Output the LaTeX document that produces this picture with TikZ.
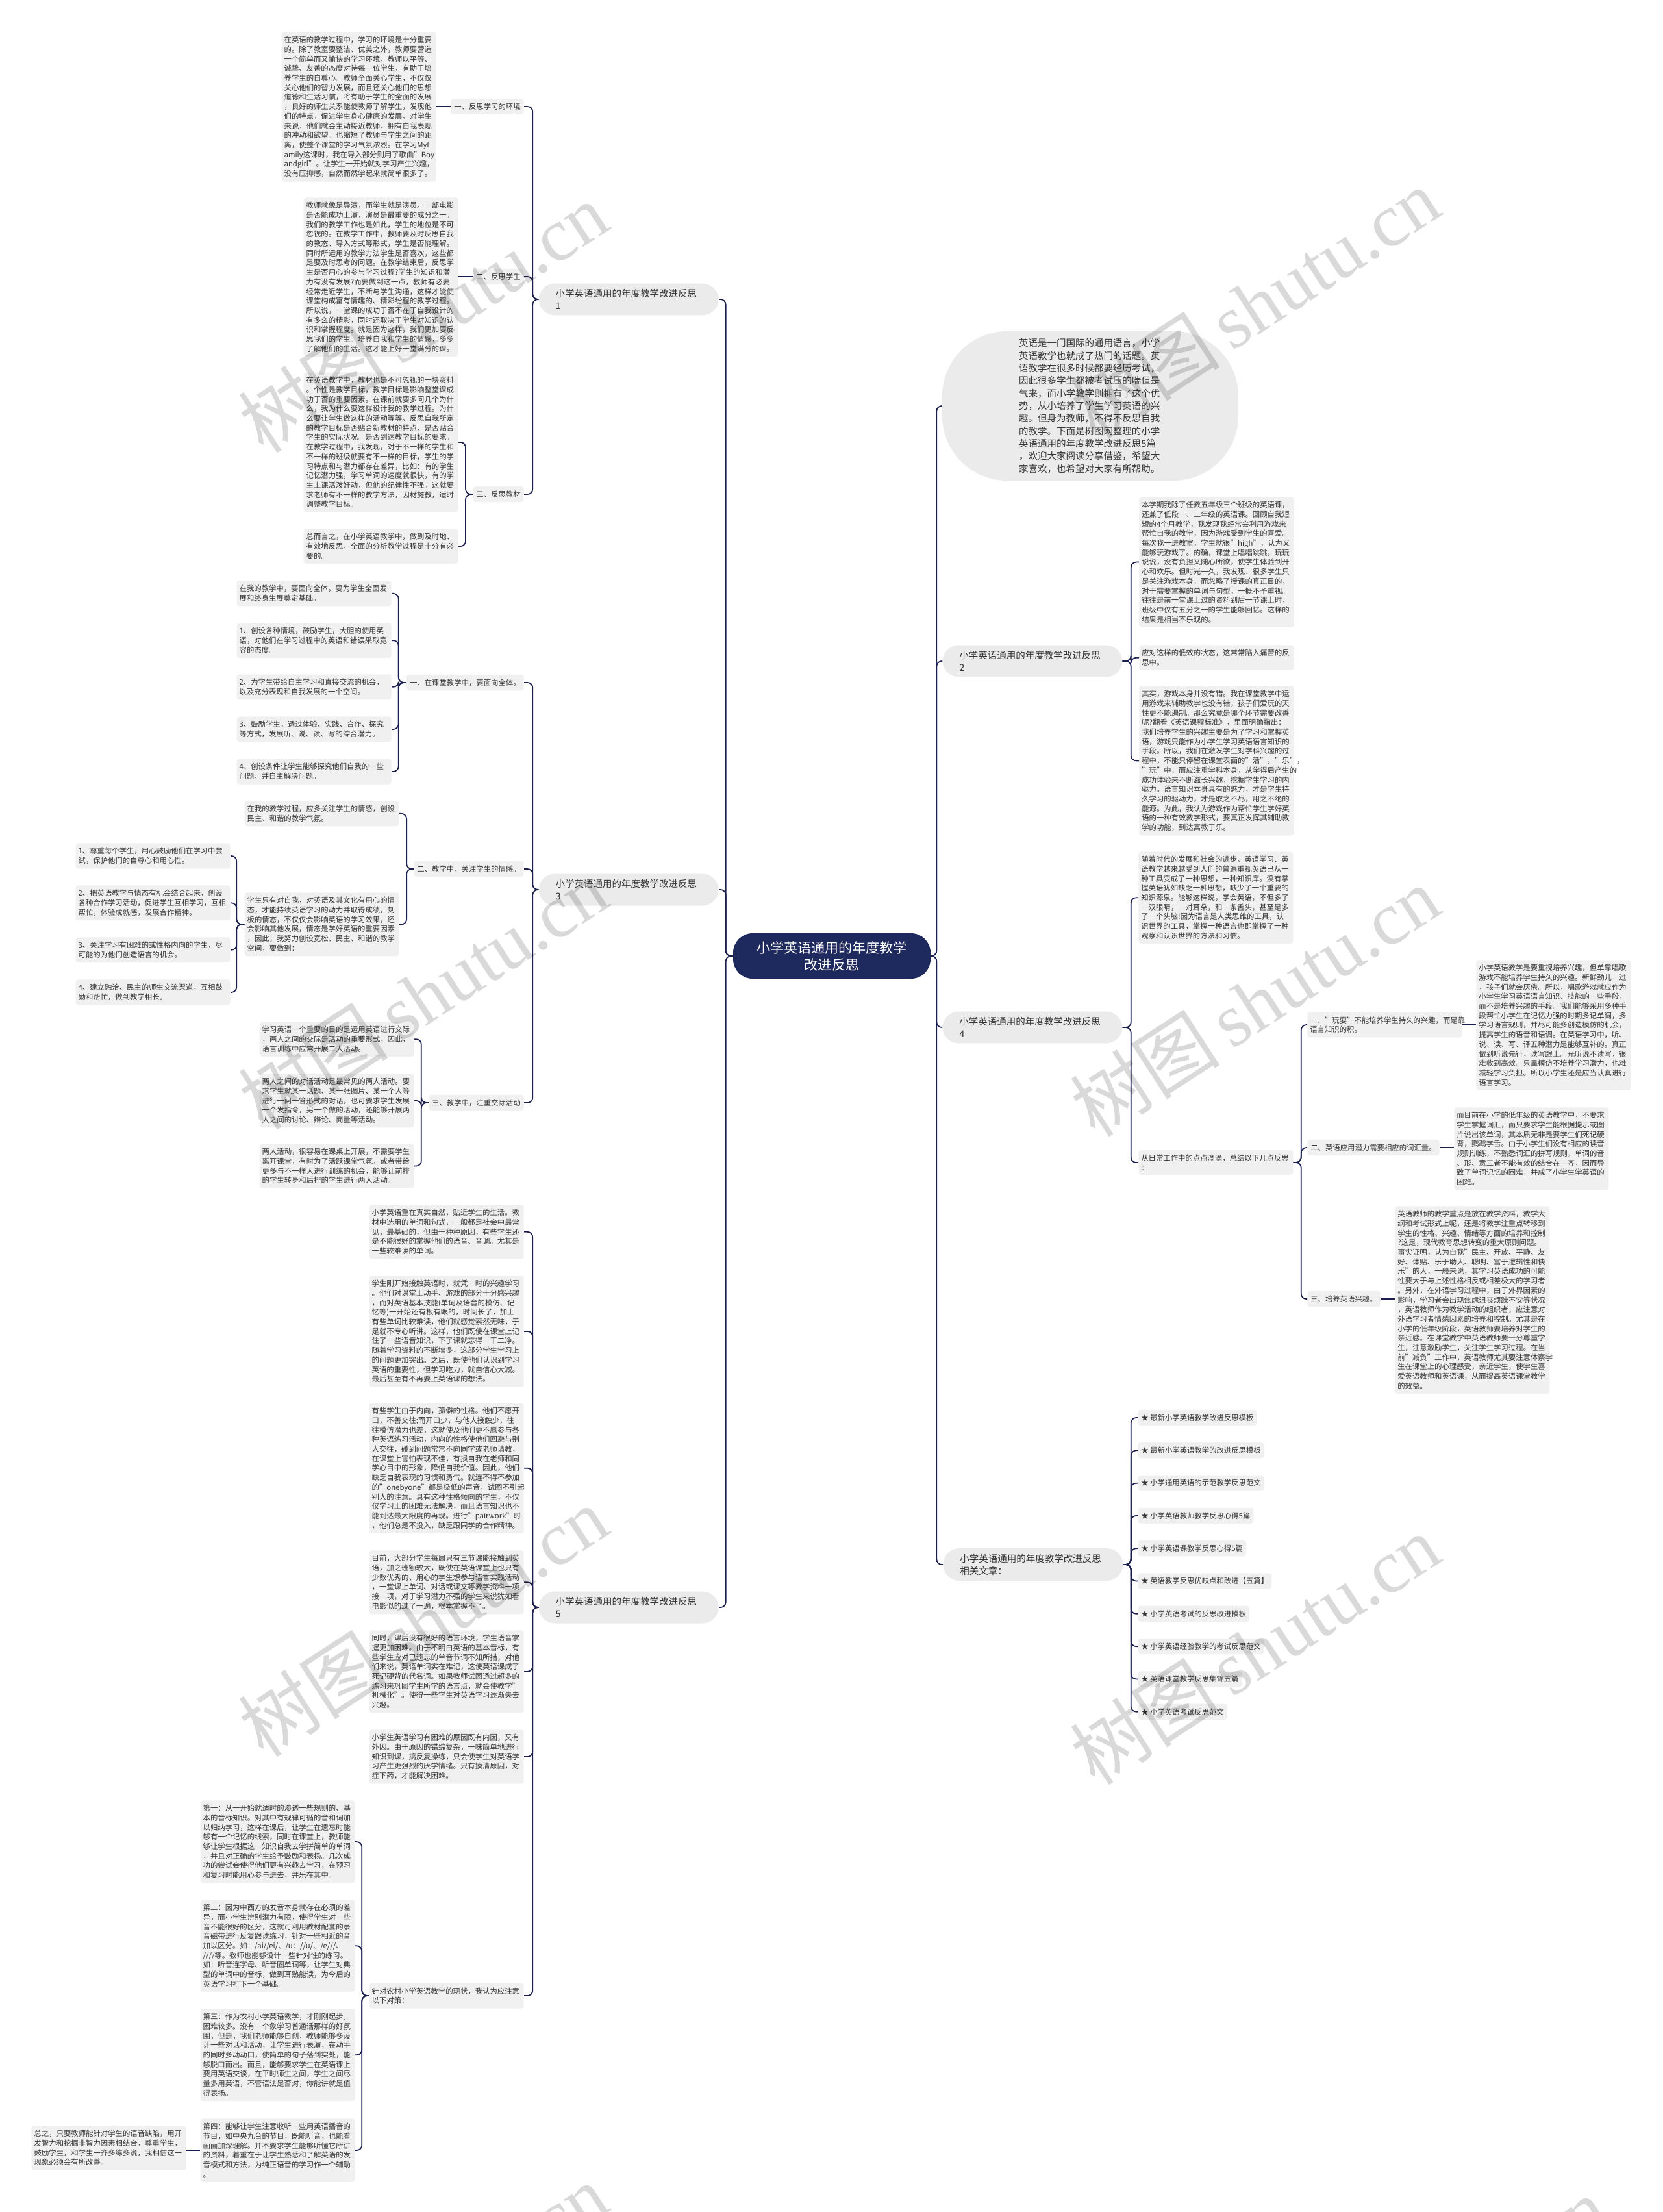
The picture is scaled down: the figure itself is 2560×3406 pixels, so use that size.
\documentclass[tikz,border=0pt]{standalone}
\usepackage{fontspec}
\setmainfont{Noto Sans CJK SC}
\newfontfamily\wmlat{Liberation Serif}
\definecolor{navy}{HTML}{1B1F4D}
\definecolor{kasten}{HTML}{F0F0F0}
\definecolor{pille}{HTML}{EBEBEB}
\definecolor{schrift}{HTML}{333333}
\definecolor{mittefarbe}{HTML}{1E2A5E}
\newcommand\klein{\fontsize{6.47pt}{8.36pt}\selectfont}
\newcommand\mittel{\fontsize{8.25pt}{10.8pt}\selectfont}
\newcommand\gross{\fontsize{12pt}{14.8pt}\selectfont}

\begin{document}
\begin{tikzpicture}[x=0.2mm, y=-0.2mm,
    txt/.style={fill=kasten, text=schrift, rounded corners=0.8mm, align=left,
      text width=46mm, inner xsep=0.8mm, inner ysep=1.36mm, font=\klein},
    lbl/.style={fill=kasten, text=schrift, rounded corners=0.8mm,
      inner xsep=1mm, inner ysep=1.36mm, font=\klein},
    ast/.style={fill=pille, text=schrift, rounded corners=5mm, align=left,
      text width=45mm, inner xsep=5.2mm, inner ysep=1.75mm, font=\mittel},
    verb/.style={draw=navy, line width=0.35mm, rounded corners=1.6mm},
    wz/.style={text=black, text opacity=0.15, rotate=33, inner sep=0pt}]
    % Rahmen
    \path[use as bounding box, fill=white] (0,0) rectangle (2560,3406);
    % Mitte
    \node[fill=mittefarbe, text=white, rounded corners=6mm, minimum width=60.8mm,
      minimum height=14mm, align=center, font=\gross] (mitte) at (1281,1472)
      {小学英语通用的年度教学\\改进反思};
    % Einleitung
    \node[fill=pille, text=schrift, rounded corners=20mm, minimum width=91.2mm,
      minimum height=46mm, align=left, text width=44mm,
      font=\fontsize{8.25pt}{11pt}\selectfont] (intro) at (1679,625)
      {英语是一门国际的通用语言，小学\\英语教学也就成了热门的话题。英\\语教学在很多时候都要经历考试，\\因此很多学生都被考试压的喘但是\\气来，而小学教学则拥有了这个优\\势，从小培养了学生学习英语的兴\\趣。但身为教师，不得不反思自我\\的教学。下面是树图网整理的小学\\英语通用的年度教学改进反思5篇\\，欢迎大家阅读分享借鉴，希望大\\家喜欢，也希望对大家有所帮助。};

    % Zweig 1
    \node[ast, anchor=east] (z1) at (1107,461) {小学英语通用的年度教学改进反思\\1};
    \node[lbl, anchor=east] (l1a) at (807,164) {一、反思学习的环境};
    \node[lbl, anchor=east] (l1b) at (807,426) {二、反思学生};
    \node[lbl, anchor=east] (l1c) at (807,761) {三、反思教材};
    \node[txt, anchor=north east] (t1a) at (672,49)
      {在英语的教学过程中，学习的环境是十分重要\\的。除了教室要整洁、优美之外，教师要营造\\一个简单而又愉快的学习环境，教师以平等、\\诚挚、友善的态度对待每一位学生，有助于培\\养学生的自尊心。教师全面关心学生，不仅仅\\关心他们的智力发展，而且还关心他们的思想\\道德和生活习惯，将有助于学生的全面的发展\\，良好的师生关系能使教师了解学生，发现他\\们的特点，促进学生身心健康的发展。对学生\\来说，他们就会主动接近教师，拥有自我表现\\的冲动和欲望。也缩短了教师与学生之间的距\\离，使整个课堂的学习气氛浓烈。在学习Myf\\amily这课时，我在导入部分则用了歌曲"Boy\\andgirl"。让学生一开始就对学习产生兴趣，\\没有压抑感，自然而然学起来就简单很多了。};
    \node[txt, anchor=north east] (t1b) at (706,304)
      {教师就像是导演，而学生就是演员。一部电影\\是否能成功上演，演员是最重要的成分之一。\\我们的教学工作也是如此，学生的地位是不可\\忽视的。在教学工作中，教师要及时反思自我\\的教态、导入方式等形式，学生是否能理解。\\同时所运用的教学方法学生是否喜欢，这些都\\是要及时思考的问题。在教学结束后，反思学\\生是否用心的参与学习过程?学生的知识和潜\\力有没有发展?而要做到这一点，教师有必要\\经常走近学生，不断与学生沟通，这样才能使\\课堂构成富有情趣的、精彩纷程的教学过程。\\所以说，一堂课的成功于否不在于自我设计的\\有多么的精彩，同时还取决于学生对知识的认\\识和掌握程度。就是因为这样，我们更加要反\\思我们的学生。培养自我和学生的情感，多多\\了解他们的生活。这才能上好一堂满分的课。};
    \node[txt, anchor=north east] (t1c) at (706,573)
      {在英语教学中，教材也是不可忽视的一块资料\\。个性是教学目标，教学目标是影响整堂课成\\功于否的重要因素。在课前就要多问几个为什\\么，我为什么要这样设计我的教学过程。为什\\么要让学生做这样的活动等等。反思自我所定\\的教学目标是否贴合新教材的特点，是否贴合\\学生的实际状况。是否到达教学目标的要求。\\在教学过程中，我发现，对于不一样的学生和\\不一样的班级就要有不一样的目标，学生的学\\习特点和与潜力都存在差异，比如：有的学生\\记忆潜力强，学习单词的速度就很快，有的学\\生上课活泼好动，但他的纪律性不强。这就要\\求老师有不一样的教学方法，因材施教，适时\\调整教学目标。};
    \node[txt, anchor=north east] (t1d) at (706,814)
      {总而言之，在小学英语教学中，做到及时地、\\有效地反思，全面的分析教学过程是十分有必\\要的。};

    % Zweig 3
    \node[ast, anchor=east] (z3) at (1107,1370) {小学英语通用的年度教学改进反思\\3};
    \node[lbl, anchor=east] (l3a) at (807,1051) {一、在课堂教学中，要面向全体。};
    \node[lbl, anchor=east] (l3b) at (807,1338) {二、教学中，关注学生的情感。};
    \node[lbl, anchor=east] (l3c) at (807,1698) {三、教学中，注重交际活动};
    \node[txt, anchor=north east] (t3a1) at (603,894)
      {在我的教学中，要面向全体，要为学生全面发\\展和终身生展奠定基础。};
    \node[txt, anchor=north east] (t3a2) at (603,959)
      {1、创设各种情境，鼓励学生，大胆的使用英\\语，对他们在学习过程中的英语和错误采取宽\\容的态度。};
    \node[txt, anchor=north east] (t3a3) at (603,1038)
      {2、为学生带给自主学习和直接交流的机会，\\以及充分表现和自我发展的一个空间。};
    \node[txt, anchor=north east] (t3a4) at (603,1103)
      {3、鼓励学生，透过体验、实践、合作、探究\\等方式，发展听、说、读、写的综合潜力。};
    \node[txt, anchor=north east] (t3a5) at (603,1168)
      {4、创设条件让学生能够探究他们自我的一些\\问题，并自主解决问题。};
    \node[txt, anchor=north east] (t3b1) at (615,1233)
      {在我的教学过程，应多关注学生的情感，创设\\民主、和谐的教学气氛。};
    \node[txt, anchor=north east] (t3b2) at (615,1374)
      {学生只有对自我，对英语及其文化有用心的情\\态，才能持续英语学习的动力并取得成绩，刻\\板的情态，不仅仅会影响英语的学习效果，还\\会影响其他发展，情态是学好英语的重要因素\\，因此，我努力创设宽松、民主、和谐的教学\\空间，要做到：};
    \node[txt, anchor=north east] (c1) at (355,1298)
      {1、尊重每个学生，用心鼓励他们在学习中尝\\试，保护他们的自尊心和用心性。};
    \node[txt, anchor=north east] (c2) at (355,1363)
      {2、把英语教学与情态有机会结合起来，创设\\各种合作学习活动，促进学生互相学习，互相\\帮忙，体验成就感，发展合作精神。};
    \node[txt, anchor=north east] (c3) at (355,1443)
      {3、关注学习有困难的或性格内向的学生，尽\\可能的为他们创造语言的机会。};
    \node[txt, anchor=north east] (c4) at (355,1508)
      {4、建立融洽、民主的师生交流渠道，互相鼓\\励和帮忙，做到教学相长。};
    \node[txt, anchor=north east] (t3c1) at (638,1573)
      {学习英语一个重要的目的是运用英语进行交际\\，两人之间的交际是活动的重要形式，因此，\\语言训练中应常开展二人活动。};
    \node[txt, anchor=north east] (t3c2) at (638,1653)
      {两人之间的对话活动是最常见的两人活动。要\\求学生就某一话题、某一张图片、某一个人等\\进行一问一答形式的对话，也可要求学生发展\\一个发指令，另一个做的活动，还能够开展两\\人之间的讨论、辩论、商量等活动。};
    \node[txt, anchor=north east] (t3c3) at (638,1761)
      {两人活动，很容易在课桌上开展，不需要学生\\离开课堂，有时为了活跃课堂气氛，或者带给\\更多与不一样人进行训练的机会，能够让前排\\的学生转身和后排的学生进行两人活动。};

    % Zweig 5
    \node[ast, anchor=east] (z5) at (1107,2475) {小学英语通用的年度教学改进反思\\5};
    \node[txt, anchor=north east] (t5a) at (807,1855)
      {小学英语重在真实自然，贴近学生的生活。教\\材中选用的单词和句式，一般都是社会中最常\\见，最基础的，但由于种种原因，有些学生还\\是不能很好的掌握他们的语音、音调。尤其是\\一些较难读的单词。};
    \node[txt, anchor=north east] (t5b) at (807,1964)
      {学生刚开始接触英语时，就凭一时的兴趣学习\\。他们对课堂上动手、游戏的部分十分感兴趣\\，而对英语基本技能(单词及语音的模仿、记\\忆等)一开始还有板有眼的，时间长了，加上\\有些单词比较难读，他们就感觉索然无味，于\\是就不专心听讲。这样，他们既使在课堂上记\\住了一些语音知识，下了课就忘得一干二净。\\随着学习资料的不断增多，这部分学生学习上\\的问题更加突出。之后，既使他们认识到学习\\英语的重要性，但学习吃力，就自信心大减。\\最后甚至有不再要上英语课的想法。};
    \node[txt, anchor=north east] (t5c) at (807,2160)
      {有些学生由于内向，孤僻的性格。他们不愿开\\口，不善交往;而开口少，与他人接触少，往\\往模仿潜力也差，这就使及他们更不愿参与各\\种英语练习活动，内向的性格使他们回避与别\\人交往，碰到问题常常不向同学或老师请教，\\在课堂上害怕表现不佳，有损自我在老师和同\\学心目中的形象，降低自我价值。因此，他们\\缺乏自我表现的习惯和勇气。就连不得不参加\\的"onebyone"都是极低的声音，试图不引起\\别人的注意。具有这种性格倾向的学生，不仅\\仅学习上的困难无法解决，而且语言知识也不\\能到达最大限度的再现。进行"pairwork"时\\，他们总是不投入，缺乏跟同学的合作精神。};
    \node[txt, anchor=north east] (t5d) at (807,2387)
      {目前，大部分学生每周只有三节课能接触到英\\语，加之班额较大，既使在英语课堂上也只有\\少数优秀的、用心的学生想参与语言实践活动\\，一堂课上单词、对话或课文等教学资料一项\\接一项，对于学习潜力不强的学生来说犹如看\\电影似的过了一遍，根本掌握不了。};
    \node[txt, anchor=north east] (t5e) at (807,2510)
      {同时，课后没有很好的语言环境，学生语音掌\\握更加困难。由于不明白英语的基本音标，有\\些学生应对已遗忘的单音节词不知所措，对他\\们来说，英语单词实在难记，这使英语课成了\\死记硬背的代名词。如果教师试图透过超多的\\练习来巩固学生所学的语言点，就会使教学"\\机械化"。使得一些学生对英语学习逐渐失去\\兴趣。};
    \node[txt, anchor=north east] (t5f) at (807,2663)
      {小学生英语学习有困难的原因既有内因，又有\\外因。由于原因的错综复杂，一味简单地进行\\知识到课，搞反复操练，只会使学生对英语学\\习产生更强烈的厌学情绪。只有摸清原因，对\\症下药，才能解决困难。};
    \node[txt, anchor=east] (l5g) at (807,3073)
      {针对农村小学英语教学的现状，我认为应注意\\以下对策：};
    \node[txt, anchor=north east] (t5g1) at (547,2772)
      {第一：从一开始就适时的渗透一些规则的、基\\本的音标知识。对其中有规律可循的音和词加\\以归纳学习，这样在课后，让学生在遗忘时能\\够有一个记忆的线索，同时在课堂上，教师能\\够让学生根据这一知识自我去学拼简单的单词\\，并且对正确的学生给予鼓励和表扬。几次成\\功的尝试会使得他们更有兴趣去学习，在预习\\和复习时能用心参与进去，并乐在其中。};
    \node[txt, anchor=north east] (t5g2) at (547,2925)
      {第二：因为中西方的发音本身就存在必须的差\\异，而小学生辨别潜力有限，使得学生对一些\\音不能很好的区分，这就可利用教材配套的录\\音磁带进行反复跟读练习，针对一些相近的音\\加以区分。如：/ai//ei/、/u：//u/、/e///、\\////等。教师也能够设计一些针对性的练习。\\如：听音连字母、听音圈单词等，让学生对典\\型的单词中的音标，做到耳熟能读，为今后的\\英语学习打下一个基础。};
    \node[txt, anchor=north east] (t5g3) at (547,3093)
      {第三：作为农村小学英语教学，才刚刚起步，\\困难较多。没有一个象学习普通话那样的好氛\\围，但是，我们老师能够自创，教师能够多设\\计一些对话和活动，让学生进行表演，在动手\\的同时多动动口，使简单的句子落到实处，能\\够脱口而出。而且，能够要求学生在英语课上\\要用英语交谈，在平时师生之间，学生之间尽\\量多用英语，不管语法是否对，你能讲就是值\\得表扬。};
    \node[txt, anchor=north east] (t5g4) at (547,3262)
      {第四：能够让学生注意收听一些用英语播音的\\节目，如中央九台的节目，既能听音，也能看\\画面加深理解。并不要求学生能够听懂它所讲\\的资料，着重在于让学生熟悉和了解英语的发\\音模式和方法，为纯正语音的学习作一个辅助\\。};
    \node[txt, anchor=north east] (t5h) at (287,3273)
      {总之，只要教师能针对学生的语音缺陷，用开\\发智力和挖掘非智力因素相结合，尊重学生，\\鼓励学生，和学生一齐多练多说，我相信这一\\现象必须会有所改善。};

    % Zweig 2
    \node[ast, anchor=west] (z2) at (1451,1018) {小学英语通用的年度教学改进反思\\2};
    \node[txt, anchor=north west] (t2a) at (1754,765)
      {本学期我除了任教五年级三个班级的英语课，\\还兼了低段一、二年级的英语课。回顾自我短\\短的4个月教学，我发现我经常会利用游戏来\\帮忙自我的教学，因为游戏受到学生的喜爱。\\每次我一进教室，学生就很"high"，认为又\\能够玩游戏了。的确，课堂上唱唱跳跳，玩玩\\说说，没有负担又随心所欲，使学生体验到开\\心和欢乐。但时光一久，我发现：很多学生只\\是关注游戏本身，而忽略了授课的真正目的，\\对于需要掌握的单词与句型，一概不予重视。\\往往是前一堂课上过的资料到后一节课上时，\\班级中仅有五分之一的学生能够回忆。这样的\\结果是相当不乐观的。};
    \node[txt, anchor=north west] (t2b) at (1754,993)
      {应对这样的低效的状态，这常常陷入痛苦的反\\思中。};
    \node[txt, anchor=north west] (t2c) at (1754,1056)
      {其实，游戏本身并没有错。我在课堂教学中运\\用游戏来辅助教学也没有错，孩子们爱玩的天\\性更不能遏制。那么究竟是哪个环节需要改善\\呢?翻看《英语课程标准》，里面明确指出：\\我们培养学生的兴趣主要是为了学习和掌握英\\语，游戏只能作为小学生学习英语语言知识的\\手段。所以，我们在激发学生对学科兴趣的过\\程中，不能只停留在课堂表面的"活"，"乐"，\\"玩"中，而应注重学科本身，从学得后产生的\\成功体验来不断滋长兴趣，挖掘学生学习的内\\驱力。语言知识本身具有的魅力，才是学生持\\久学习的驱动力，才是取之不尽，用之不绝的\\能源。为此，我认为游戏作为帮忙学生学好英\\语的一种有效教学形式，要真正发挥其辅助教\\学的功能，到达寓教于乐。};

    % Zweig 4
    \node[ast, anchor=west] (z4) at (1451,1582) {小学英语通用的年度教学改进反思\\4};
    \node[txt, anchor=north west] (t4a) at (1753,1311)
      {随着时代的发展和社会的进步，英语学习、英\\语教学越来越受到人们的普遍重视英语已从一\\种工具变成了一种思想，一种知识库。没有掌\\握英语犹如缺乏一种思想，缺少了一个重要的\\知识源泉。能够这样说，学会英语，不但多了\\一双眼睛，一对耳朵，和一条舌头，甚至是多\\了一个头脑!因为语言是人类思维的工具，认\\识世界的工具，掌握一种语言也即掌握了一种\\观察和认识世界的方法和习惯。};
    \node[txt, anchor=west] (l4) at (1753,1790)
      {从日常工作中的点点滴滴，总结以下几点反思\\：};
    \node[txt, anchor=west] (l4a) at (2013,1578)
      {一、"玩耍"不能培养学生持久的兴趣，而是靠\\语言知识的积。};
    \node[lbl, anchor=west] (l4b) at (2013,1767) {二、英语应用潜力需要相应的词汇量。};
    \node[lbl, anchor=west] (l4c) at (2013,2000) {三、培养英语兴趣。};
    \node[txt, anchor=north west] (t4a1) at (2273,1478)
      {小学英语教学是要重视培养兴趣，但单靠唱歌\\游戏不能培养学生持久的兴趣。新鲜劲儿一过\\，孩子们就会厌倦。所以，唱歌游戏就应作为\\小学生学习英语语言知识、技能的一些手段，\\而不是培养兴趣的手段。我们能够采用多种手\\段帮忙小学生在记忆力强的时期多记单词，多\\学习语言规则，并尽可能多创造模仿的机会，\\提高学生的语音和语调。在英语学习中，听、\\说、读、写、译五种潜力是能够互补的。真正\\做到听说先行，读写跟上。光听说不读写，很\\难收到高效。只靠模仿不培养学习潜力，也难\\减轻学习负担。所以小学生还是应当认真进行\\语言学习。};
    \node[txt, anchor=north west] (t4b1) at (2239,1705)
      {而目前在小学的低年级的英语教学中，不要求\\学生掌握词汇，而只要求学生能根据提示或图\\片说出该单词，其本质无非是要学生们死记硬\\背，鹦鹉学舌。由于小学生们没有相应的读音\\规则训练，不熟悉词汇的拼写规则，单词的音\\、形、意三者不能有效的结合在一齐，因而导\\致了单词记忆的困难，并成了小学生学英语的\\困难。};
    \node[txt, anchor=north west] (t4c1) at (2148,1857)
      {英语教师的教学重点是放在教学资料，教学大\\纲和考试形式上呢，还是将教学注重点转移到\\学生的性格、兴趣、情绪等方面的培养和控制\\?这是，现代教育思想转变的重大原则问题。\\事实证明，认为自我"民主、开放、平静、友\\好、体贴、乐于助人、聪明、富于逻辑性和快\\乐"的人，一般来说，其学习英语成功的可能\\性要大于与上述性格相反或相差极大的学习者\\。另外，在外语学习过程中，由于外界因素的\\影响，学习者会出现焦虑沮丧烦躁不安等状况\\，英语教师作为教学活动的组织者，应注意对\\外语学习者情感因素的培养和控制。尤其是在\\小学的低年级阶段，英语教师要培养对学生的\\亲近感。在课堂教学中英语教师要十分尊重学\\生，注意激励学生，关注学生学习过程。在当\\前"减负"工作中，英语教师尤其要注意体察学\\生在课堂上的心理感受，亲近学生，使学生喜\\爱英语教师和英语课，从而提高英语课堂教学\\的效益。};

    % Zweig Artikel
    \node[ast, anchor=west] (zr) at (1452,2409) {小学英语通用的年度教学改进反思\\相关文章：};
    \foreach \i/\t in {1/最新小学英语教学改进反思模板,
        2/最新小学英语教学的改进反思模板,
        3/小学通用英语的示范教学反思范文,
        4/小学英语教师教学反思心得5篇,
        5/小学英语课教学反思心得5篇,
        6/英语教学反思优缺点和改进【五篇】,
        7/小学英语考试的反思改进模板,
        8/小学英语经验教学的考试反思范文,
        9/英语课堂教学反思集锦五篇,
        10/小学英语考试反思范文}
      \node[lbl, anchor=west] (a\i) at (1752,2132.7+50.3*\i) {★ \t};

    % Verbindungen
    \foreach \k in {z1,z3,z5}
      \draw[verb] (mitte.west) -- ++(-11,0) |- (\k.east);
    \foreach \k in {intro,z2,z4,zr}
      \draw[verb] (mitte.east) -- ++(9,0) |- (\k.west);
    \foreach \k in {l1a,l1b,l1c}
      \draw[verb] (z1.west) -- ++(-9,0) |- (\k.east);
    \draw[verb] (l1a.west) -- (l1a.west -| t1a.east);
    \draw[verb] (l1b.west) -- (l1b.west -| t1b.east);
    \foreach \k in {t1c,t1d}
      \draw[verb] (l1c.west) -- ++(-11,0) |- (\k.east);
    \foreach \k in {l3a,l3b,l3c}
      \draw[verb] (z3.west) -- ++(-9,0) |- (\k.east);
    \foreach \k in {t3a1,t3a2,t3a3,t3a4,t3a5}
      \draw[verb] (l3a.west) -- ++(-12,0) |- (\k.east);
    \foreach \k in {t3b1,t3b2}
      \draw[verb] (l3b.west) -- ++(-11,0) |- (\k.east);
    \foreach \k in {c1,c2,c3,c4}
      \draw[verb] (t3b2.west) -- ++(-12,0) |- (\k.east);
    \foreach \k in {t3c1,t3c2,t3c3}
      \draw[verb] (l3c.west) -- ++(-11,0) |- (\k.east);
    \foreach \k in {t5a,t5b,t5c,t5d,t5e,t5f,l5g}
      \draw[verb] (z5.west) -- ++(-9,0) |- (\k.east);
    \foreach \k in {t5g1,t5g2,t5g3,t5g4}
      \draw[verb] (l5g.west) -- ++(-11,0) |- (\k.east);
    \draw[verb] (t5g4.west) -- (t5g4.west -| t5h.east);
    \foreach \k in {t2a,t2b,t2c}
      \draw[verb] (z2.east) -- ++(13,0) |- (\k.west);
    \foreach \k in {t4a,l4}
      \draw[verb] (z4.east) -- ++(13,0) |- (\k.west);
    \foreach \k in {l4a,l4b,l4c}
      \draw[verb] (l4.east) -- ++(12,0) |- (\k.west);
    \draw[verb] (l4a.east) -- (l4a.east -| t4a1.west);
    \draw[verb] (l4b.east) -- (l4b.east -| t4b1.west);
    \draw[verb] (l4c.east) -- (l4c.east -| t4c1.west);
    \foreach \i in {1,...,10}
      \draw[verb] (zr.east) -- ++(12,0) |- (a\i.west);

    % Wasserzeichen
    \foreach \x/\y in {651/489,1932/467,651/1531,1932/1542,651/2497,1932/2540,651/3540,2190/3560}
      \node[wz] at (\x,\y) {\fontsize{66pt}{66pt}\selectfont 树图\,{\wmlat shutu.cn}};
\end{tikzpicture}
\end{document}
